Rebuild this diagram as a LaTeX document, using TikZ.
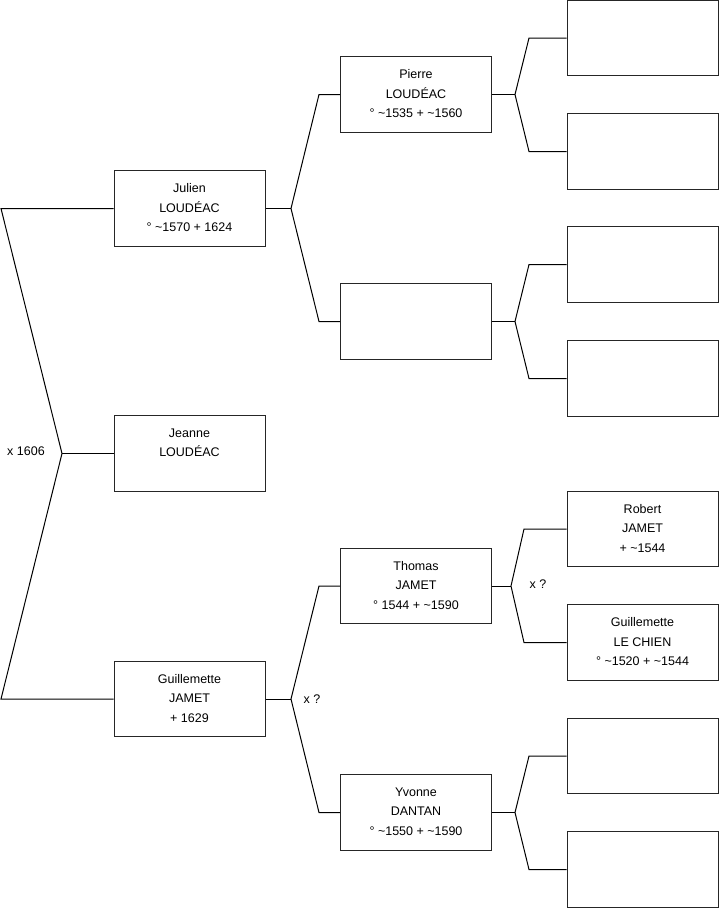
\documentclass[tikz,border=0pt]{standalone}
\usepackage{fontspec}
\setmainfont{Liberation Sans}
\begin{document}
\begin{tikzpicture}[x=1pt,y=-1pt,
  box/.style={draw=black!85,line width=1pt,minimum width=151pt,minimum height=75.5pt,inner sep=0pt},
  txt/.style={anchor=north,align=center,inner sep=0pt,font=\fontsize{12.5}{19.5}\selectfont},
  lbl/.style={inner sep=0pt,font=\fontsize{12.5}{15}\selectfont},
  conn/.style={draw=black,line width=1pt}]
\useasboundingbox (0,0) rectangle (719,908);
\newcommand\person[3]{%
  \node[box] (#1) at (#2) {};
  \node[txt] (#1-t) at ([yshift=-13pt]#1.north) {#3};}
% generation 1
\person{julien}{189.5,208.5}{Julien\\LOUDÉAC\\° \textasciitilde1570 + 1624}
\person{jeanne}{189.5,453.5}{Jeanne\\LOUDÉAC}
\person{guill}{189.5,699}{Guillemette\\JAMET\\+ 1629}
% generation 2
\person{pierre}{416,94.5}{Pierre\\LOUDÉAC\\° \textasciitilde1535 + \textasciitilde1560}
\person{empty}{416,321.5}{}
\person{thomas}{416,586}{Thomas\\JAMET\\° 1544 + \textasciitilde1590}
\person{yvonne}{416,812.5}{Yvonne\\DANTAN\\° \textasciitilde1550 + \textasciitilde1590}
% generation 3
\person{r1}{642.5,38}{}
\person{r2}{642.5,151.5}{}
\person{r3}{642.5,264.5}{}
\person{r4}{642.5,378.5}{}
\person{r5}{642.5,529}{Robert\\JAMET\\+ \textasciitilde1544}
\person{r6}{642.5,642.5}{Guillemette\\LE CHIEN\\° \textasciitilde1520 + \textasciitilde1544}
\person{r7}{642.5,756}{}
\person{r8}{642.5,869.5}{}
% left bracket
\coordinate (lt) at (1,208.5);
\coordinate (lv) at (62,453.5);
\coordinate (lb) at (1,699);
\draw[conn] (julien.west) -- (lt) -- (lv) -- (lb) -- (guill.west);
\draw[conn] (lv) -- (jeanne.west);
\node[lbl] (m1) at (26,451) {x 1606};
% brackets, generation 1 -> 2
\coordinate (v1) at (291,208.5);
\coordinate (a1) at (319,94.5);
\coordinate (b1) at (319,321.5);
\draw[conn] (julien.east) -- (v1);
\draw[conn] (pierre.west) -- (a1) -- (v1) -- (b1) -- (empty.west);
\coordinate (v2) at (291,699);
\coordinate (a2) at (319,586);
\coordinate (b2) at (319,812.5);
\draw[conn] (guill.east) -- (v2);
\draw[conn] (thomas.west) -- (a2) -- (v2) -- (b2) -- (yvonne.west);
\node[lbl] (m2) at (312,699) {x ?};
% brackets, generation 2 -> 3
\coordinate (v3) at (515,94.5);
\coordinate (a3) at (529,38);
\coordinate (b3) at (529,151.5);
\draw[conn] (pierre.east) -- (v3);
\draw[conn] (r1.west) -- (a3) -- (v3) -- (b3) -- (r2.west);
\coordinate (v4) at (515,321.5);
\coordinate (a4) at (529,264.5);
\coordinate (b4) at (529,378.5);
\draw[conn] (empty.east) -- (v4);
\draw[conn] (r3.west) -- (a4) -- (v4) -- (b4) -- (r4.west);
\coordinate (v5) at (511,586);
\coordinate (a5) at (524,529);
\coordinate (b5) at (524,642.5);
\draw[conn] (thomas.east) -- (v5);
\draw[conn] (r5.west) -- (a5) -- (v5) -- (b5) -- (r6.west);
\node[lbl] (m3) at (538,584) {x ?};
\coordinate (v6) at (515,812.5);
\coordinate (a6) at (529,756);
\coordinate (b6) at (529,869.5);
\draw[conn] (yvonne.east) -- (v6);
\draw[conn] (r7.west) -- (a6) -- (v6) -- (b6) -- (r8.west);
\end{tikzpicture}
\end{document}
